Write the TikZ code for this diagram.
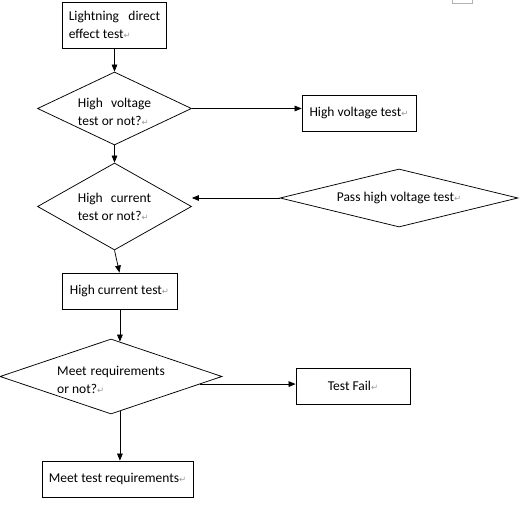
\documentclass[tikz,border=0pt]{standalone}
\usepackage{fontspec}
\setmainfont{Carlito}
\newfontfamily\markfont{DejaVu Sans}
\usetikzlibrary{arrows.meta,shapes.geometric,calc}
\newcommand{\pmark}{{\markfont\color{gray!80}\fontsize{8.5}{8.5}\selectfont ↵}}

\begin{document}
\begin{tikzpicture}[x=1pt,y=-1pt,line width=.75pt]
\tikzstyle{boxstyle}=[draw, rectangle, align=left, font=\fontsize{13.5}{18}\selectfont]
\tikzstyle{diastyle}=[draw, diamond, inner sep=0pt, align=left, font=\fontsize{13.5}{18}\selectfont]
    \useasboundingbox (0,0) rectangle (527,510);
    \draw[gray!60, line width=.5pt] (452,0) -- (452,3) -- (472,3) -- (472,0);
    \node[boxstyle, minimum width=104pt, minimum height=46pt] (lde) at (114.5,25) {Lightning\hspace{.7em}direct\\effect test\pmark};
    \node[diastyle, aspect=2.11, minimum width=154pt, minimum height=73pt] (hvq) at (114.5,108.5) {\rule{0pt}{16pt}High\hspace{.6em}voltage\\test or not?\pmark};
    \node[boxstyle, minimum width=114pt, minimum height=36pt] (hvt) at (359,113) {High voltage test\pmark};
    \node[diastyle, aspect=1.77, minimum width=154pt, minimum height=87pt] (hcq) at (114.5,206.5) {High\hspace{.6em}current\\test or not?\pmark};
    \node[diastyle, aspect=4.1, minimum width=238pt, minimum height=58pt] (phv) at (399,198) {Pass high voltage test\pmark};
    \node[boxstyle, minimum width=115pt, minimum height=36pt] (hct) at (119.5,291) {High current test\pmark};
    \node[diastyle, aspect=2.96, minimum width=222pt, minimum height=75pt] (mrq) at (111,376.5) {\rule{0pt}{16pt}Meet\hspace{.3em}requirements\\or not?\pmark};
    \node[boxstyle, minimum width=114pt, minimum height=36pt] (fail) at (353,386) {Test Fail\pmark};
    \node[boxstyle, minimum width=151pt, minimum height=36pt] (meet) at (117.5,479) {Meet test requirements\pmark};
    \coordinate (mrqin) at ($(mrq.north)!0.08!(mrq.east)$);
    \coordinate (mrqout) at ($(mrq.south)!0.08!(mrq.east)$);
    \coordinate (mrqside) at ($(mrq.east)!0.2!(mrq.south)$);
    \draw [-{Triangle[length=2.5mm,width=2mm]}] (lde.south) -- (hvq.north);
    \draw [-{Triangle[length=2.5mm,width=2mm]}] (hvq.east) -- (hvq.east -| hvt.west);
    \draw [-{Triangle[length=2.5mm,width=2mm]}] (hvq.south) -- (hcq.north);
    \draw [-{Triangle[length=2.5mm,width=2mm]}] (phv.west) -- (phv.west -| hcq.east);
    \draw [-{Triangle[length=2.5mm,width=2mm]}] (hcq.south) -- (hct.north);
    \draw [-{Triangle[length=2.5mm,width=2mm]}] (mrqin |- hct.south) -- (mrqin);
    \draw [-{Triangle[length=2.5mm,width=2mm]}] (mrqside) -- (mrqside -| fail.west);
    \draw [-{Triangle[length=2.5mm,width=2mm]}] (mrqout) -- (mrqout |- meet.north);
\end{tikzpicture}
\end{document}
